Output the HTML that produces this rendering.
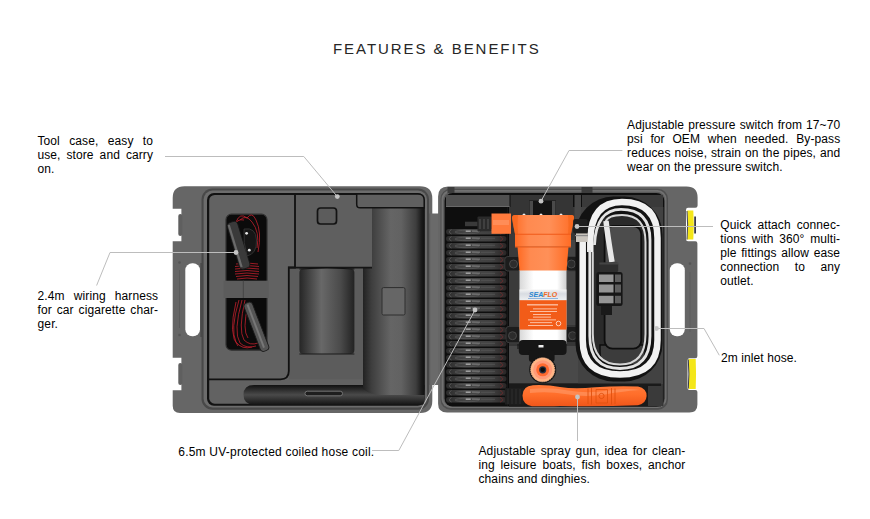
<!DOCTYPE html>
<html><head><meta charset="utf-8">
<style>
html,body{margin:0;padding:0;background:#fff;}
body{width:870px;height:519px;position:relative;overflow:hidden;font-family:"Liberation Sans",sans-serif;}
svg{position:absolute;left:0;top:0;}
.t{position:absolute;font-size:12px;line-height:14px;color:#000;letter-spacing:0.1px;}
.t div{text-align:justify;text-align-last:justify;white-space:nowrap;}
.t div.l{text-align:left;text-align-last:left;}
#title{position:absolute;left:333px;top:39.5px;font-size:15px;line-height:17px;letter-spacing:1.95px;color:#262626;white-space:nowrap;}
</style></head>
<body>
<svg width="870" height="519" viewBox="0 0 870 519">

<defs>
  <linearGradient id="cylV" x1="0" x2="1" y1="0" y2="0">
    <stop offset="0" stop-color="#1a1a1a"/><stop offset="0.45" stop-color="#5a5a5a"/><stop offset="1" stop-color="#1e1e1e"/>
  </linearGradient>
  <linearGradient id="cylH" x1="0" x2="0" y1="0" y2="1">
    <stop offset="0" stop-color="#111"/><stop offset="0.5" stop-color="#4a4a4a"/><stop offset="1" stop-color="#151515"/>
  </linearGradient>
  <linearGradient id="cylT" x1="0" x2="1" y1="0" y2="0">
    <stop offset="0" stop-color="#222"/><stop offset="0.14" stop-color="#3e3e3e"/><stop offset="0.45" stop-color="#656565"/><stop offset="0.62" stop-color="#626262"/><stop offset="0.86" stop-color="#3e3e3e"/><stop offset="0.95" stop-color="#1c1c1c"/><stop offset="1" stop-color="#111"/>
  </linearGradient>
  <linearGradient id="cylM" x1="0" x2="1" y1="0" y2="0">
    <stop offset="0" stop-color="#262626"/><stop offset="0.4" stop-color="#686868"/><stop offset="0.75" stop-color="#4a4a4a"/><stop offset="1" stop-color="#222"/>
  </linearGradient>
  <linearGradient id="coilG" x1="0" x2="1" y1="0" y2="0">
    <stop offset="0" stop-color="#2a2a2a"/><stop offset="0.3" stop-color="#464646"/><stop offset="0.75" stop-color="#404040"/><stop offset="1" stop-color="#2a2626"/>
  </linearGradient>
  <linearGradient id="orG" x1="0" x2="1" y1="0" y2="0">
    <stop offset="0" stop-color="#ff6a22"/><stop offset="0.25" stop-color="#ff8a50"/><stop offset="0.6" stop-color="#ff9058"/><stop offset="1" stop-color="#ff6c24"/>
  </linearGradient>
  <linearGradient id="bodyG" x1="0" x2="1" y1="0" y2="0">
    <stop offset="0" stop-color="#d8d8d8"/><stop offset="0.3" stop-color="#fff"/><stop offset="0.8" stop-color="#fff"/><stop offset="1" stop-color="#cfcfcf"/>
  </linearGradient>
  <linearGradient id="lblG" x1="0" x2="0" y1="0" y2="1">
    <stop offset="0" stop-color="#f4f4f4"/><stop offset="0.4" stop-color="#d8dce2"/><stop offset="1" stop-color="#eef0f2"/>
  </linearGradient>
  <linearGradient id="gunG" x1="0" x2="0" y1="0" y2="1">
    <stop offset="0" stop-color="#ff7a3a"/><stop offset="0.45" stop-color="#ff6e2a"/><stop offset="1" stop-color="#f0561a"/>
  </linearGradient>
</defs>

<path d="M184.5,186.3 H420 Q432.3,186.3 432.3,198.6 V401 Q432.3,413 420.3,413 H180 Q172.7,413 172.7,405.7 V390.2 H181.4 V357.7 H172.7 V241.2 H181.4 V208.7 H172.7 V198 Q172.7,186.3 184.5,186.3 Z" fill="#666"/>
<rect x="178.3" y="214" width="4" height="22" rx="2" fill="#5f5f5f"/>
<rect x="178.3" y="363" width="4" height="22" rx="2" fill="#5f5f5f"/>
<rect x="431" y="213.5" width="8" height="171.5" fill="#6a6a6a"/>
<line x1="429" y1="213.5" x2="429" y2="385" stroke="#555" stroke-width="1"/>
<line x1="441" y1="213.5" x2="441" y2="385" stroke="#555" stroke-width="1"/>
<rect x="185.3" y="263.2" width="14.7" height="73.1" rx="7" fill="#fff"/>
<rect x="200.3" y="263" width="3" height="74" fill="#4a4a4a"/>
<circle cx="179.5" cy="262.5" r="1.3" fill="#555"/><circle cx="179.5" cy="335" r="1.3" fill="#555"/>
<line x1="179.5" y1="270" x2="179.5" y2="328" stroke="#5a5a5a" stroke-width="1"/>
<rect x="201.5" y="188.5" width="227.5" height="221.3" rx="11" fill="#484848"/>
<rect x="203.6" y="190.5" width="223.4" height="217" rx="9" fill="#6c6c6c"/>
<rect x="207" y="193" width="217.7" height="212.7" rx="7" fill="#121212"/>
<rect x="209.2" y="195" width="213.5" height="208.7" rx="5.5" fill="#626262"/>
<!-- tall cylinder -->
<rect x="363" y="207" width="61.5" height="188" fill="url(#cylT)"/>
<!-- bottom long recess -->
<path d="M254,385 H420 Q424.5,385 424.5,392 V404.7 H254 Q243.5,404.7 243.5,394.8 Q243.5,385 254,385 Z" fill="url(#cylH)"/>
<path d="M363,389 Q372,395 380,395 H424.5 V385 H363 Z" fill="url(#cylT)"/>
<!-- middle box face -->
<rect x="295" y="195" width="77" height="72.4" fill="#5f5f5f"/>
<!-- lower middle recess -->
<path d="M288.8,267.5 H363 V379.3 H288.8 Z" fill="#5c5c5c"/>
<path d="M295,195 V267.5 H288.8 V371 Q288.8,379.3 280.5,379.3 H209" fill="none" stroke="#111" stroke-width="1.8"/>
<line x1="288" y1="267.6" x2="372" y2="267.6" stroke="#151515" stroke-width="1.6"/>
<rect x="299.4" y="268.7" width="55" height="85.4" rx="4" fill="url(#cylM)"/>
<path d="M299.4,269 Q327,266.5 354.4,269" fill="none" stroke="#111" stroke-width="1"/>
<line x1="299.4" y1="354" x2="354.4" y2="354" stroke="#1a1a1a" stroke-width="1"/>
<!-- ledge -->
<path d="M356.7,194 H418 Q424.2,194 424.2,200 V207.8 H360 Q356.7,207.8 356.7,204.5 Z" fill="#606060" stroke="#121212" stroke-width="1.5"/>
<rect x="317.5" y="208" width="19" height="16" rx="3" fill="#5c5c5c" stroke="#131313" stroke-width="1.7"/>
<rect x="382" y="287.6" width="23" height="27.4" rx="1.5" fill="#666" stroke="#2e2e2e" stroke-width="1"/>
<rect x="305" y="391.2" width="37.5" height="4.6" rx="2.3" fill="#1e1e1e" stroke="#7a7a7a" stroke-width="0.9"/>
<!-- wire recess -->
<rect x="226" y="214.2" width="41" height="136" rx="5.5" fill="#0b0b0b" stroke="#333" stroke-width="1.2"/>
<g fill="none" stroke="#c0202c" stroke-width="0.8">
<path d="M236,222 Q240,212 247,218 Q252,211 256,220 Q262,232 258,252"/>
<path d="M240,220 Q246,214 252,222 Q260,232 257,248"/>
<path d="M234,228 Q236,218 244,220"/>
<path d="M236,264 Q247,262 258,264"/><path d="M235,266.5 Q247,264.5 259,266.5"/><path d="M235,269 Q247,267 259,269"/>
<path d="M235,271.5 Q247,269.5 259,271.5"/><path d="M235,274 Q247,272 259,274"/><path d="M236,276.5 Q247,274.5 258,276.5"/><path d="M237,279 Q247,277 257,279"/>
<path d="M239,300 Q230,330 236,342 Q242,350 252,347"/>
<path d="M242,300 Q233,332 240,343 Q246,349 256,346"/>
<path d="M245,300 Q238,330 244,340 Q250,346 258,343"/>
<path d="M236,302 Q228,335 238,346"/>
<path d="M248,305 Q242,330 248,338"/>
</g>
<g transform="rotate(-17 238.5 245.2)"><rect x="233" y="221" width="11" height="48.5" rx="4" fill="#3a3a3a" stroke="#151515" stroke-width="0.8"/><rect x="234" y="223" width="2.2" height="44" fill="#6a6a6a"/></g>
<path d="M244,229 Q256,227 256.5,240 Q257,254 247,256 Q243,243 244,229 Z" fill="#161616" stroke="#3a3a3a" stroke-width="0.8"/>
<circle cx="246.6" cy="233.3" r="1.4" fill="#e6e6e6"/><circle cx="249.3" cy="250.2" r="1.4" fill="#e6e6e6"/>
<g transform="rotate(-21 256.4 326.7)"><rect x="251.9" y="301" width="9" height="51.5" rx="3.5" fill="#555" stroke="#1c1c1c" stroke-width="0.9"/><rect x="255" y="303" width="2" height="46" fill="#777"/></g>
<rect x="223.5" y="280.7" width="45.3" height="17.3" fill="#5c5c5c"/>
<line x1="243.3" y1="280.7" x2="243.3" y2="298" stroke="#454545" stroke-width="1"/>

<path d="M448,186.5 H686.5 Q697.6,186.5 697.6,197.6 V205.5 Q697.6,207.7 695.4,207.7 H688 Q686,207.7 686,210 V239 Q686,241.2 688,241.2 H695.4 Q697.4,241.2 697.4,243.4 V356 Q697.4,358.2 695.2,358.2 H689.5 Q687.5,358.2 687.5,360.4 V388 Q687.5,390 689.5,390 H695.4 Q697.4,390 697.4,392 V404.6 Q697.4,412.6 689.4,412.6 H447 Q438.1,412.6 438.1,403.7 V196.5 Q438.1,186.5 448,186.5 Z" fill="#666"/>
<path d="M687.2,210.6 H693.3 Q694.3,225 693.3,239.6 H687.2 Q688.6,225 687.2,210.6 Z" fill="#f4e619"/>
<path d="M687,211 Q688.3,225 687,239.5" fill="none" stroke="#4a4a58" stroke-width="1.1"/>
<rect x="694.2" y="216.5" width="1.8" height="17" fill="#3a3a48"/>
<path d="M688.5,359 H695.7 Q696.4,374 695.7,389 H688.5 Q689.8,374 688.5,359 Z" fill="#f4e619"/>
<path d="M688.3,359.5 Q689.5,374 688.3,388.5" fill="none" stroke="#3a3a4a" stroke-width="1"/>
<rect x="669.8" y="263.2" width="15" height="73.1" rx="7" fill="#fff"/>
<circle cx="690" cy="263.6" r="1.3" fill="#555"/>
<line x1="690" y1="272" x2="690" y2="332" stroke="#5c5c5c" stroke-width="1"/>
<rect x="440.5" y="188.8" width="227.5" height="221" rx="10" fill="#4e4e4e"/>
<rect x="441.5" y="190" width="225" height="218" rx="9" fill="#717171"/>
<rect x="443.2" y="191.8" width="222" height="214.8" rx="8.5" fill="#5a5a5a"/>
<rect x="444.6" y="193" width="219.7" height="213.5" rx="8" fill="#0e0e0e"/>
<rect x="447.5" y="187" width="7" height="6" fill="#3c3c3c"/>
<rect x="581.5" y="187" width="11" height="6" fill="#3c3c3c"/>
<!-- compartments -->
<rect x="507.5" y="207" width="156" height="199" fill="#363636"/>
<rect x="507.5" y="207" width="1.5" height="199" fill="#0a0a0a"/>
<rect x="566" y="240" width="14" height="85" fill="#444"/>
<rect x="578" y="207" width="85" height="177" fill="#424242"/>
<path d="M509,346 H578 V383 H509 Z" fill="#494949"/>
<path d="M518,344 V349" stroke="#111" stroke-width="1"/>
<!-- top ledge -->
<rect x="446" y="195" width="63.5" height="12" fill="#505050"/>
<line x1="446" y1="206.5" x2="509.5" y2="206.5" stroke="#6a6a6a" stroke-width="1"/>
<rect x="510.5" y="195" width="62.5" height="20" fill="#353535"/>
<rect x="574.5" y="195" width="6.5" height="25" fill="#474747"/>
<rect x="582" y="195" width="81" height="12" fill="#3a3a3a"/>
<g><rect x="446" y="229.0" width="60.5" height="5.6" rx="2.8" fill="url(#coilG)"/><path d="M451.5,229.6 Q447.2,231.8 451.5,234.0" stroke="#666" stroke-width="0.7" fill="none"/><ellipse cx="467" cy="232.0" rx="12" ry="1.7" stroke="#5a5a5a" stroke-width="0.7" fill="none"/><rect x="481" y="230.8" width="14" height="0.9" fill="#555"/><rect x="465.7" y="230.5" width="5" height="1.4" fill="#a8a8a8"/><rect x="472" y="230.6" width="8" height="1.1" fill="#7a7a7a"/><path d="M500,229.4 Q505.5,231.8 500,234.2" stroke="#7a2a2c" stroke-width="0.8" fill="none" opacity="0.8"/><rect x="446" y="236.0" width="60.5" height="5.6" rx="2.8" fill="url(#coilG)"/><path d="M451.5,236.6 Q447.2,238.8 451.5,241.0" stroke="#666" stroke-width="0.7" fill="none"/><ellipse cx="467" cy="239.0" rx="12" ry="1.7" stroke="#5a5a5a" stroke-width="0.7" fill="none"/><rect x="481" y="237.8" width="14" height="0.9" fill="#555"/><rect x="465.7" y="237.5" width="5" height="1.4" fill="#a8a8a8"/><rect x="472" y="237.6" width="8" height="1.1" fill="#7a7a7a"/><path d="M500,236.4 Q505.5,238.8 500,241.2" stroke="#7a2a2c" stroke-width="0.8" fill="none" opacity="0.8"/><rect x="446" y="243.0" width="60.5" height="5.6" rx="2.8" fill="url(#coilG)"/><path d="M451.5,243.6 Q447.2,245.8 451.5,248.0" stroke="#666" stroke-width="0.7" fill="none"/><ellipse cx="467" cy="246.0" rx="12" ry="1.7" stroke="#5a5a5a" stroke-width="0.7" fill="none"/><rect x="481" y="244.8" width="14" height="0.9" fill="#555"/><rect x="465.7" y="244.5" width="5" height="1.4" fill="#a8a8a8"/><rect x="472" y="244.6" width="8" height="1.1" fill="#7a7a7a"/><path d="M500,243.4 Q505.5,245.8 500,248.2" stroke="#7a2a2c" stroke-width="0.8" fill="none" opacity="0.8"/><rect x="446" y="250.0" width="60.5" height="5.6" rx="2.8" fill="url(#coilG)"/><path d="M451.5,250.6 Q447.2,252.8 451.5,255.0" stroke="#666" stroke-width="0.7" fill="none"/><ellipse cx="467" cy="253.0" rx="12" ry="1.7" stroke="#5a5a5a" stroke-width="0.7" fill="none"/><rect x="481" y="251.8" width="14" height="0.9" fill="#555"/><rect x="465.7" y="251.5" width="5" height="1.4" fill="#a8a8a8"/><rect x="472" y="251.6" width="8" height="1.1" fill="#7a7a7a"/><path d="M500,250.4 Q505.5,252.8 500,255.2" stroke="#7a2a2c" stroke-width="0.8" fill="none" opacity="0.8"/><rect x="446" y="257.0" width="60.5" height="5.6" rx="2.8" fill="url(#coilG)"/><path d="M451.5,257.6 Q447.2,259.8 451.5,262.0" stroke="#666" stroke-width="0.7" fill="none"/><ellipse cx="467" cy="260.0" rx="12" ry="1.7" stroke="#5a5a5a" stroke-width="0.7" fill="none"/><rect x="481" y="258.8" width="14" height="0.9" fill="#555"/><rect x="465.7" y="258.5" width="5" height="1.4" fill="#a8a8a8"/><rect x="472" y="258.6" width="8" height="1.1" fill="#7a7a7a"/><path d="M500,257.4 Q505.5,259.8 500,262.2" stroke="#7a2a2c" stroke-width="0.8" fill="none" opacity="0.8"/><rect x="446" y="264.0" width="60.5" height="5.6" rx="2.8" fill="url(#coilG)"/><path d="M451.5,264.6 Q447.2,266.8 451.5,269.0" stroke="#666" stroke-width="0.7" fill="none"/><ellipse cx="467" cy="267.0" rx="12" ry="1.7" stroke="#5a5a5a" stroke-width="0.7" fill="none"/><rect x="481" y="265.8" width="14" height="0.9" fill="#555"/><rect x="465.7" y="265.5" width="5" height="1.4" fill="#a8a8a8"/><rect x="472" y="265.6" width="8" height="1.1" fill="#7a7a7a"/><path d="M500,264.4 Q505.5,266.8 500,269.2" stroke="#7a2a2c" stroke-width="0.8" fill="none" opacity="0.8"/><rect x="446" y="271.0" width="60.5" height="5.6" rx="2.8" fill="url(#coilG)"/><path d="M451.5,271.6 Q447.2,273.8 451.5,276.0" stroke="#666" stroke-width="0.7" fill="none"/><ellipse cx="467" cy="274.0" rx="12" ry="1.7" stroke="#5a5a5a" stroke-width="0.7" fill="none"/><rect x="481" y="272.8" width="14" height="0.9" fill="#555"/><rect x="465.7" y="272.5" width="5" height="1.4" fill="#a8a8a8"/><rect x="472" y="272.6" width="8" height="1.1" fill="#7a7a7a"/><path d="M500,271.4 Q505.5,273.8 500,276.2" stroke="#7a2a2c" stroke-width="0.8" fill="none" opacity="0.8"/><rect x="446" y="278.0" width="60.5" height="5.6" rx="2.8" fill="url(#coilG)"/><path d="M451.5,278.6 Q447.2,280.8 451.5,283.0" stroke="#666" stroke-width="0.7" fill="none"/><ellipse cx="467" cy="281.0" rx="12" ry="1.7" stroke="#5a5a5a" stroke-width="0.7" fill="none"/><rect x="481" y="279.8" width="14" height="0.9" fill="#555"/><rect x="465.7" y="279.5" width="5" height="1.4" fill="#a8a8a8"/><rect x="472" y="279.6" width="8" height="1.1" fill="#7a7a7a"/><path d="M500,278.4 Q505.5,280.8 500,283.2" stroke="#7a2a2c" stroke-width="0.8" fill="none" opacity="0.8"/><rect x="446" y="285.0" width="60.5" height="5.6" rx="2.8" fill="url(#coilG)"/><path d="M451.5,285.6 Q447.2,287.8 451.5,290.0" stroke="#666" stroke-width="0.7" fill="none"/><ellipse cx="467" cy="288.0" rx="12" ry="1.7" stroke="#5a5a5a" stroke-width="0.7" fill="none"/><rect x="481" y="286.8" width="14" height="0.9" fill="#555"/><rect x="465.7" y="286.5" width="5" height="1.4" fill="#a8a8a8"/><rect x="472" y="286.6" width="8" height="1.1" fill="#7a7a7a"/><path d="M500,285.4 Q505.5,287.8 500,290.2" stroke="#7a2a2c" stroke-width="0.8" fill="none" opacity="0.8"/><rect x="446" y="292.0" width="60.5" height="5.6" rx="2.8" fill="url(#coilG)"/><path d="M451.5,292.6 Q447.2,294.8 451.5,297.0" stroke="#666" stroke-width="0.7" fill="none"/><ellipse cx="467" cy="295.0" rx="12" ry="1.7" stroke="#5a5a5a" stroke-width="0.7" fill="none"/><rect x="481" y="293.8" width="14" height="0.9" fill="#555"/><rect x="465.7" y="293.5" width="5" height="1.4" fill="#a8a8a8"/><rect x="472" y="293.6" width="8" height="1.1" fill="#7a7a7a"/><path d="M500,292.4 Q505.5,294.8 500,297.2" stroke="#7a2a2c" stroke-width="0.8" fill="none" opacity="0.8"/><rect x="446" y="299.0" width="60.5" height="5.6" rx="2.8" fill="url(#coilG)"/><path d="M451.5,299.6 Q447.2,301.8 451.5,304.0" stroke="#666" stroke-width="0.7" fill="none"/><ellipse cx="467" cy="302.0" rx="12" ry="1.7" stroke="#5a5a5a" stroke-width="0.7" fill="none"/><rect x="481" y="300.8" width="14" height="0.9" fill="#555"/><rect x="465.7" y="300.5" width="5" height="1.4" fill="#a8a8a8"/><rect x="472" y="300.6" width="8" height="1.1" fill="#7a7a7a"/><path d="M500,299.4 Q505.5,301.8 500,304.2" stroke="#7a2a2c" stroke-width="0.8" fill="none" opacity="0.8"/><rect x="446" y="306.0" width="60.5" height="5.6" rx="2.8" fill="url(#coilG)"/><path d="M451.5,306.6 Q447.2,308.8 451.5,311.0" stroke="#666" stroke-width="0.7" fill="none"/><ellipse cx="467" cy="309.0" rx="12" ry="1.7" stroke="#5a5a5a" stroke-width="0.7" fill="none"/><rect x="481" y="307.8" width="14" height="0.9" fill="#555"/><rect x="465.7" y="307.5" width="5" height="1.4" fill="#a8a8a8"/><rect x="472" y="307.6" width="8" height="1.1" fill="#7a7a7a"/><path d="M500,306.4 Q505.5,308.8 500,311.2" stroke="#7a2a2c" stroke-width="0.8" fill="none" opacity="0.8"/><rect x="446" y="313.0" width="60.5" height="5.6" rx="2.8" fill="url(#coilG)"/><path d="M451.5,313.6 Q447.2,315.8 451.5,318.0" stroke="#666" stroke-width="0.7" fill="none"/><ellipse cx="467" cy="316.0" rx="12" ry="1.7" stroke="#5a5a5a" stroke-width="0.7" fill="none"/><rect x="481" y="314.8" width="14" height="0.9" fill="#555"/><rect x="465.7" y="314.5" width="5" height="1.4" fill="#a8a8a8"/><rect x="472" y="314.6" width="8" height="1.1" fill="#7a7a7a"/><path d="M500,313.4 Q505.5,315.8 500,318.2" stroke="#7a2a2c" stroke-width="0.8" fill="none" opacity="0.8"/><rect x="446" y="320.0" width="60.5" height="5.6" rx="2.8" fill="url(#coilG)"/><path d="M451.5,320.6 Q447.2,322.8 451.5,325.0" stroke="#666" stroke-width="0.7" fill="none"/><ellipse cx="467" cy="323.0" rx="12" ry="1.7" stroke="#5a5a5a" stroke-width="0.7" fill="none"/><rect x="481" y="321.8" width="14" height="0.9" fill="#555"/><rect x="465.7" y="321.5" width="5" height="1.4" fill="#a8a8a8"/><rect x="472" y="321.6" width="8" height="1.1" fill="#7a7a7a"/><path d="M500,320.4 Q505.5,322.8 500,325.2" stroke="#7a2a2c" stroke-width="0.8" fill="none" opacity="0.8"/><rect x="446" y="327.0" width="60.5" height="5.6" rx="2.8" fill="url(#coilG)"/><path d="M451.5,327.6 Q447.2,329.8 451.5,332.0" stroke="#666" stroke-width="0.7" fill="none"/><ellipse cx="467" cy="330.0" rx="12" ry="1.7" stroke="#5a5a5a" stroke-width="0.7" fill="none"/><rect x="481" y="328.8" width="14" height="0.9" fill="#555"/><rect x="465.7" y="328.5" width="5" height="1.4" fill="#a8a8a8"/><rect x="472" y="328.6" width="8" height="1.1" fill="#7a7a7a"/><path d="M500,327.4 Q505.5,329.8 500,332.2" stroke="#7a2a2c" stroke-width="0.8" fill="none" opacity="0.8"/><rect x="446" y="334.0" width="60.5" height="5.6" rx="2.8" fill="url(#coilG)"/><path d="M451.5,334.6 Q447.2,336.8 451.5,339.0" stroke="#666" stroke-width="0.7" fill="none"/><ellipse cx="467" cy="337.0" rx="12" ry="1.7" stroke="#5a5a5a" stroke-width="0.7" fill="none"/><rect x="481" y="335.8" width="14" height="0.9" fill="#555"/><rect x="465.7" y="335.5" width="5" height="1.4" fill="#a8a8a8"/><rect x="472" y="335.6" width="8" height="1.1" fill="#7a7a7a"/><path d="M500,334.4 Q505.5,336.8 500,339.2" stroke="#7a2a2c" stroke-width="0.8" fill="none" opacity="0.8"/><rect x="446" y="341.0" width="60.5" height="5.6" rx="2.8" fill="url(#coilG)"/><path d="M451.5,341.6 Q447.2,343.8 451.5,346.0" stroke="#666" stroke-width="0.7" fill="none"/><ellipse cx="467" cy="344.0" rx="12" ry="1.7" stroke="#5a5a5a" stroke-width="0.7" fill="none"/><rect x="481" y="342.8" width="14" height="0.9" fill="#555"/><rect x="465.7" y="342.5" width="5" height="1.4" fill="#a8a8a8"/><rect x="472" y="342.6" width="8" height="1.1" fill="#7a7a7a"/><path d="M500,341.4 Q505.5,343.8 500,346.2" stroke="#7a2a2c" stroke-width="0.8" fill="none" opacity="0.8"/><rect x="446" y="348.0" width="60.5" height="5.6" rx="2.8" fill="url(#coilG)"/><path d="M451.5,348.6 Q447.2,350.8 451.5,353.0" stroke="#666" stroke-width="0.7" fill="none"/><ellipse cx="467" cy="351.0" rx="12" ry="1.7" stroke="#5a5a5a" stroke-width="0.7" fill="none"/><rect x="481" y="349.8" width="14" height="0.9" fill="#555"/><rect x="465.7" y="349.5" width="5" height="1.4" fill="#a8a8a8"/><rect x="472" y="349.6" width="8" height="1.1" fill="#7a7a7a"/><path d="M500,348.4 Q505.5,350.8 500,353.2" stroke="#7a2a2c" stroke-width="0.8" fill="none" opacity="0.8"/><rect x="446" y="355.0" width="60.5" height="5.6" rx="2.8" fill="url(#coilG)"/><path d="M451.5,355.6 Q447.2,357.8 451.5,360.0" stroke="#666" stroke-width="0.7" fill="none"/><ellipse cx="467" cy="358.0" rx="12" ry="1.7" stroke="#5a5a5a" stroke-width="0.7" fill="none"/><rect x="481" y="356.8" width="14" height="0.9" fill="#555"/><rect x="465.7" y="356.5" width="5" height="1.4" fill="#a8a8a8"/><rect x="472" y="356.6" width="8" height="1.1" fill="#7a7a7a"/><path d="M500,355.4 Q505.5,357.8 500,360.2" stroke="#7a2a2c" stroke-width="0.8" fill="none" opacity="0.8"/><rect x="446" y="362.0" width="60.5" height="5.6" rx="2.8" fill="url(#coilG)"/><path d="M451.5,362.6 Q447.2,364.8 451.5,367.0" stroke="#666" stroke-width="0.7" fill="none"/><ellipse cx="467" cy="365.0" rx="12" ry="1.7" stroke="#5a5a5a" stroke-width="0.7" fill="none"/><rect x="481" y="363.8" width="14" height="0.9" fill="#555"/><rect x="465.7" y="363.5" width="5" height="1.4" fill="#a8a8a8"/><rect x="472" y="363.6" width="8" height="1.1" fill="#7a7a7a"/><path d="M500,362.4 Q505.5,364.8 500,367.2" stroke="#7a2a2c" stroke-width="0.8" fill="none" opacity="0.8"/><rect x="446" y="369.0" width="60.5" height="5.6" rx="2.8" fill="url(#coilG)"/><path d="M451.5,369.6 Q447.2,371.8 451.5,374.0" stroke="#666" stroke-width="0.7" fill="none"/><ellipse cx="467" cy="372.0" rx="12" ry="1.7" stroke="#5a5a5a" stroke-width="0.7" fill="none"/><rect x="481" y="370.8" width="14" height="0.9" fill="#555"/><rect x="465.7" y="370.5" width="5" height="1.4" fill="#a8a8a8"/><rect x="472" y="370.6" width="8" height="1.1" fill="#7a7a7a"/><path d="M500,369.4 Q505.5,371.8 500,374.2" stroke="#7a2a2c" stroke-width="0.8" fill="none" opacity="0.8"/><rect x="446" y="376.0" width="60.5" height="5.6" rx="2.8" fill="url(#coilG)"/><path d="M451.5,376.6 Q447.2,378.8 451.5,381.0" stroke="#666" stroke-width="0.7" fill="none"/><ellipse cx="467" cy="379.0" rx="12" ry="1.7" stroke="#5a5a5a" stroke-width="0.7" fill="none"/><rect x="481" y="377.8" width="14" height="0.9" fill="#555"/><rect x="465.7" y="377.5" width="5" height="1.4" fill="#a8a8a8"/><rect x="472" y="377.6" width="8" height="1.1" fill="#7a7a7a"/><path d="M500,376.4 Q505.5,378.8 500,381.2" stroke="#7a2a2c" stroke-width="0.8" fill="none" opacity="0.8"/><rect x="446" y="383.0" width="60.5" height="5.6" rx="2.8" fill="url(#coilG)"/><path d="M451.5,383.6 Q447.2,385.8 451.5,388.0" stroke="#666" stroke-width="0.7" fill="none"/><ellipse cx="467" cy="386.0" rx="12" ry="1.7" stroke="#5a5a5a" stroke-width="0.7" fill="none"/><rect x="481" y="384.8" width="14" height="0.9" fill="#555"/><rect x="465.7" y="384.5" width="5" height="1.4" fill="#a8a8a8"/><rect x="472" y="384.6" width="8" height="1.1" fill="#7a7a7a"/><path d="M500,383.4 Q505.5,385.8 500,388.2" stroke="#7a2a2c" stroke-width="0.8" fill="none" opacity="0.8"/><rect x="446" y="390.0" width="60.5" height="5.6" rx="2.8" fill="url(#coilG)"/><path d="M451.5,390.6 Q447.2,392.8 451.5,395.0" stroke="#666" stroke-width="0.7" fill="none"/><ellipse cx="467" cy="393.0" rx="12" ry="1.7" stroke="#5a5a5a" stroke-width="0.7" fill="none"/><rect x="481" y="391.8" width="14" height="0.9" fill="#555"/><rect x="465.7" y="391.5" width="5" height="1.4" fill="#a8a8a8"/><rect x="472" y="391.6" width="8" height="1.1" fill="#7a7a7a"/><path d="M500,390.4 Q505.5,392.8 500,395.2" stroke="#7a2a2c" stroke-width="0.8" fill="none" opacity="0.8"/><rect x="446" y="397.0" width="60.5" height="5.6" rx="2.8" fill="url(#coilG)"/><path d="M451.5,397.6 Q447.2,399.8 451.5,402.0" stroke="#666" stroke-width="0.7" fill="none"/><ellipse cx="467" cy="400.0" rx="12" ry="1.7" stroke="#5a5a5a" stroke-width="0.7" fill="none"/><rect x="481" y="398.8" width="14" height="0.9" fill="#555"/><rect x="465.7" y="398.5" width="5" height="1.4" fill="#a8a8a8"/><rect x="472" y="398.6" width="8" height="1.1" fill="#7a7a7a"/><path d="M500,397.4 Q505.5,399.8 500,402.2" stroke="#7a2a2c" stroke-width="0.8" fill="none" opacity="0.8"/></g>
<rect x="509" y="234" width="10.5" height="110" fill="#3a3a3a"/>


<rect x="465" y="221.7" width="12.5" height="4.5" fill="#3a3a3a"/>
<rect x="477.5" y="216.4" width="14" height="15" rx="1" fill="#2a2a2a"/>
<line x1="480" y1="219" x2="480" y2="229" stroke="#555" stroke-width="1"/>
<line x1="484" y1="219" x2="484" y2="229" stroke="#555" stroke-width="1"/>
<line x1="488" y1="219" x2="488" y2="229" stroke="#555" stroke-width="1"/>
<rect x="491.5" y="213.5" width="19.5" height="20.3" fill="#ff7a3c"/>
<rect x="493" y="220" width="16" height="5" fill="#ff9a6a" opacity="0.6"/>

<rect x="504.8" y="256.5" width="16" height="14.5" rx="3" fill="#1c1c1c" stroke="#3a3a3a" stroke-width="1"/>
<circle cx="513.5" cy="264" r="4" fill="#2c2c2c" stroke="#4a4a4a" stroke-width="1"/>
<rect x="566" y="256.5" width="13" height="14.5" rx="3" fill="#1c1c1c" stroke="#3a3a3a" stroke-width="1"/>
<circle cx="571.3" cy="264" r="4" fill="#2c2c2c" stroke="#4a4a4a" stroke-width="1"/>
<rect x="506" y="326.4" width="15" height="16.3" rx="3" fill="#1c1c1c" stroke="#3a3a3a" stroke-width="1"/>
<circle cx="512.5" cy="335.7" r="4" fill="#2c2c2c" stroke="#4a4a4a" stroke-width="1"/>
<rect x="565" y="326.4" width="14" height="16.3" rx="3" fill="#1c1c1c" stroke="#3a3a3a" stroke-width="1"/>
<circle cx="572.5" cy="335.7" r="4" fill="#2c2c2c" stroke="#4a4a4a" stroke-width="1"/>

<rect x="529" y="200.5" width="27" height="15" fill="#141414"/>
<rect x="529.5" y="201" width="3.5" height="14" fill="#4a4a4a"/>
<rect x="552" y="201" width="3.5" height="14" fill="#4a4a4a"/>
<circle cx="524" cy="215" r="1.5" fill="#eee"/><circle cx="541" cy="215" r="1.5" fill="#eee"/><circle cx="561" cy="215" r="1.5" fill="#eee"/>

<path d="M512,218 Q512,215 515,215 H571.5 Q574.2,215 574,218 L571,234 H515 Z" fill="url(#orG)"/>
<path d="M512,218 Q513,226 515,234 H518 Q517,225 518,215 H515 Q512,215 512,218 Z" fill="#f5661e" opacity="0.7"/>
<path d="M574,218 Q573,226 571,234 H568 Q569,225 568,215 H571.5 Q574.2,215 574,218 Z" fill="#f5661e" opacity="0.7"/>
<rect x="515" y="234" width="56" height="12.8" fill="url(#orG)"/>
<line x1="515" y1="234.3" x2="571" y2="234.3" stroke="#f05a18" stroke-width="1.1"/>
<path d="M517.5,246.8 H568.5 L566.5,271 H519.5 Z" fill="url(#orG)"/>
<line x1="515" y1="247" x2="571" y2="247" stroke="#e85a1a" stroke-width="1"/>

<rect x="519.5" y="270.5" width="47" height="73.5" fill="url(#bodyG)"/>
<rect x="519.5" y="289.5" width="47" height="10.7" fill="url(#lblG)"/>
<text x="543" y="296.8" font-family="Liberation Sans" font-size="7" font-weight="bold" font-style="italic" text-anchor="middle" fill="#2a86d0">SEA<tspan fill="#f06a2a">FLO</tspan></text>
<rect x="528" y="298" width="30" height="0.8" fill="#7aa8d8"/>
<rect x="519.5" y="300.2" width="47" height="29.4" fill="#f25c18"/>
<g fill="#ffd8c4"><rect x="527" y="304.3" width="31" height="1.1"/><rect x="533" y="308.5" width="24" height="0.8"/><rect x="530" y="311.2" width="27" height="0.8"/><rect x="533" y="314" width="18" height="0.8"/><rect x="533" y="316.7" width="18" height="0.8"/><rect x="528" y="319.5" width="28" height="0.8"/><rect x="530" y="322.3" width="22" height="0.8"/><rect x="528" y="325.2" width="25" height="0.8"/></g>
<circle cx="558.5" cy="323.5" r="2.3" fill="none" stroke="#fff" stroke-width="0.7"/>

<rect x="518.8" y="340" width="47.8" height="15" rx="4" fill="#161616"/>
<rect x="528.9" y="350" width="25.7" height="12" rx="3" fill="#161616"/>
<rect x="538.5" y="345" width="5" height="2.5" fill="#eee"/>
<circle cx="542.7" cy="369.8" r="13.5" fill="#151515"/>
<circle cx="542.7" cy="369.8" r="12" fill="#ffb485" stroke="#ffc49a" stroke-width="1" stroke-dasharray="1 1"/>
<circle cx="542.7" cy="369.8" r="9.5" fill="#ff9a78"/>
<circle cx="542.7" cy="369.8" r="6.5" fill="#ff6a30"/>
<circle cx="542.7" cy="369.8" r="3.6" fill="#2a3040"/>
<circle cx="542.7" cy="369.8" r="2.3" fill="#0a0a0a"/>

<rect x="575.5" y="196.5" width="87" height="185" rx="38" fill="#121212"/>
<rect x="594" y="214" width="52" height="152" rx="24" fill="#2a2a2a"/>
<path d="M600,345 H645 V352 Q645,365 632,365 H612 Q600,365 600,352 Z" fill="#3c3c3c" stroke="#0e0e0e" stroke-width="1.5"/>
<rect x="604.6" y="226" width="36.6" height="122.7" rx="8" fill="#4c4c4c" stroke="#0e0e0e" stroke-width="1.8"/>
<path d="M582.7,242 V340 Q582.7,374.5 620,374.5 Q657.5,374.5 657.5,340 V238 Q657.5,202 622,202 Q591,202 590.3,240 V252" fill="none" stroke="#f2f2f2" stroke-width="6.5"/>
<path d="M589.8,250 V336 Q589.8,368.5 620,368.5 Q650,368.5 650,336 V240 Q650,209.3 621,209.3 Q596,209.3 594.5,245" fill="none" stroke="#e4e4e4" stroke-width="2.8"/>
<path d="M592.8,252 V334 Q592.8,364.5 620,364.5 Q645.5,364.5 645.5,334 V242 Q645.5,215 622,215 Q608,215 605.5,222" fill="none" stroke="#d6d6d6" stroke-width="2"/>
<path d="M606,221 Q607.5,235 612,262" fill="none" stroke="#e8e8e8" stroke-width="5.5"/>

<rect x="573.2" y="218.9" width="14.5" height="14.5" rx="2" fill="#1e1e1e"/>
<rect x="576" y="233.4" width="11.7" height="8.6" fill="#c9c4bd"/>
<rect x="575" y="235" width="13" height="1.2" fill="#8a8a8a"/>

<rect x="599.4" y="262.5" width="18.8" height="9.5" rx="1.5" fill="#2e2e2e"/>
<rect x="599.4" y="262.5" width="18.8" height="2" fill="#444"/>
<rect x="601" y="305" width="11" height="10" fill="#1a1a1a"/>
<rect x="596.3" y="272" width="26.3" height="34" rx="2.5" fill="#161616"/>
<g fill="#959595"><rect x="599" y="274.5" width="14.5" height="7.5"/><rect x="599" y="284.5" width="14.5" height="8"/><rect x="599" y="295.8" width="14.5" height="7.5"/></g>
<g fill="#5e5e5e"><rect x="615" y="274.5" width="6" height="7.5"/><rect x="615" y="284.5" width="6" height="8"/><rect x="615" y="295.8" width="6" height="7.5"/></g>

<rect x="509" y="383.5" width="152" height="23" fill="#1a1a1a"/>
<rect x="648" y="386" width="14" height="20" fill="#3a3a3a"/>
<path d="M505,388 H524 V404.5 H505 Z" fill="#1e1e1e"/>
<g stroke="#333" stroke-width="0.8"><path d="M508,389 V404"/><path d="M512,389 V404"/><path d="M516,389 V404"/><path d="M520,389 V404"/></g>
<path d="M533,385.2 Q548,384.6 560,387 Q575,389.5 595,387.2 Q620,385.5 638,386.5 Q646.8,388.5 646.6,396 Q646.2,403.5 638,405.2 Q600,406.8 560,406 Q540,406.5 532,406.2 Q522.5,404.5 522.5,395.5 Q522.5,386 533,385.2 Z" fill="url(#gunG)"/>
<path d="M530,389 Q550,386.8 568,390.5 Q590,394 612,390 Q628,388 640,390 Q620,391.5 605,394.5 Q585,397.5 565,394 Q548,391 530,393 Z" fill="#ff9e70" opacity="0.55"/>
<g stroke="#e0500e" stroke-width="0.9" fill="none"><path d="M588,388.5 V404"/><path d="M591.5,388 V404.5"/><path d="M611.5,388 V404.5"/><path d="M615,388.5 V404"/></g>
<path d="M596,389.5 H607.5 V403 H596 Z" fill="none" stroke="#e0500e" stroke-width="0.8"/>
<circle cx="601.5" cy="396" r="2.6" fill="none" stroke="#e0500e" stroke-width="0.9"/>


<g stroke="#bdbdbd" stroke-width="1" fill="none">
  <polyline points="165,156.5 303.8,156.5 337.3,196.6"/>
  <polyline points="96.6,285.5 110,252.5 236,252.5"/>
  <polyline points="372,450.5 398.8,450.5 475,310"/>
  <polyline points="622.4,150.5 569,150.5 541,201.2"/>
  <polyline points="713,226.5 577,226.5"/>
  <polyline points="656.5,328.5 704,328.5 719.3,355.3"/>
  <polyline points="577.5,397 577.5,441"/>
</g>
<g fill="#c4c4c4">
  <circle cx="337.3" cy="196.6" r="2.4"/>
  <circle cx="236" cy="252.5" r="2.4"/>
  <circle cx="475" cy="310" r="2.4"/>
  <circle cx="541" cy="201.2" r="2.4"/>
  <circle cx="577" cy="226.5" r="2.4"/>
  <circle cx="656.5" cy="328.5" r="2.4"/>
  <circle cx="577.5" cy="397" r="2.4"/>
</g>
</svg>

<div id="title">FEATURES &amp; BENEFITS</div>
<div class="t" style="left:37.4px;top:134px;width:115.7px;">
<div>Tool case, easy to</div><div>use, store and carry</div><div class="l">on.</div></div>
<div class="t" style="left:37.6px;top:289px;width:120.6px;">
<div>2.4m wiring harness</div><div>for car cigarette char-</div><div class="l">ger.</div></div>
<div class="t" style="left:178.3px;top:445px;letter-spacing:0.21px;"><div class="l">6.5m UV-protected coiled hose coil.</div></div>
<div class="t" style="left:627.1px;top:118px;width:213.2px;">
<div>Adjustable pressure switch from 17~70</div><div>psi for OEM when needed. By-pass</div><div>reduces noise, strain on the pipes, and</div><div class="l">wear on the pressure switch.</div></div>
<div class="t" style="left:720.3px;top:218px;width:119.8px;">
<div>Quick attach connec-</div><div>tions with 360° multi-</div><div>ple fittings allow ease</div><div>connection to any</div><div class="l">outlet.</div></div>
<div class="t" style="left:720.9px;top:351px;"><div class="l">2m inlet hose.</div></div>
<div class="t" style="left:478.5px;top:444px;width:206.9px;">
<div>Adjustable spray gun, idea for clean-</div><div>ing leisure boats, fish boxes, anchor</div><div class="l">chains and dinghies.</div></div>

</body></html>
